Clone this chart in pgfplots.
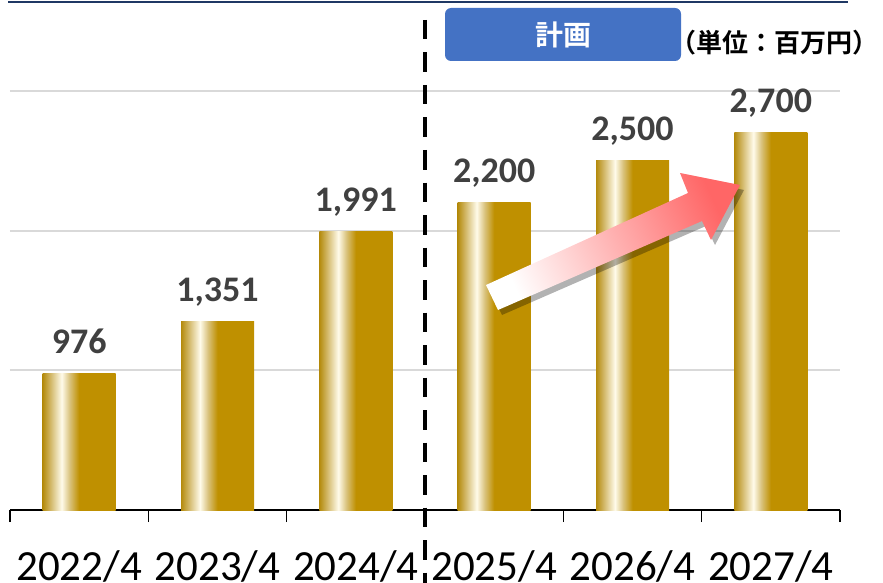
\documentclass[border=0pt]{standalone}
\usepackage{pgfplots}
\pgfplotsset{compat=1.18}
\usepackage{fontspec}
\setmainfont{Carlito}
\newfontfamily\cjk{Noto Sans CJK JP}[BoldFont={Noto Sans CJK JP Bold}]
\usetikzlibrary{shadows}
\definecolor{gold}{HTML}{BF9000}
\definecolor{golddark}{HTML}{B48A0C}
\definecolor{goldmid}{HTML}{D9C27C}
\definecolor{goldhi}{HTML}{FFFBEA}
\definecolor{textgray}{HTML}{404040}
\definecolor{gridgray}{HTML}{D9D9D9}
\definecolor{navy}{HTML}{1F3864}
\definecolor{planblue}{HTML}{4472C4}
\definecolor{arrowred}{HTML}{FF6666}
\pgfdeclarehorizontalshading{goldbar}{100bp}{color(0bp)=(golddark); color(25bp)=(golddark); color(31.5bp)=(goldmid); color(38bp)=(goldhi); color(43.5bp)=(goldmid); color(50bp)=(gold); color(100bp)=(gold)}
\begin{document}
\begin{tikzpicture}
\begin{axis}[
  scale only axis, width=830pt, height=508pt,
  at={(0pt,0pt)}, anchor=south west,
  xmin=-0.5, xmax=5.5, ymin=0, ymax=3637,
  axis lines*=left,
  y axis line style={draw=none},
  x axis line style={black, line width=1.5pt},
  ytick={1000,2000,3000}, yticklabels={},
  ytick style={draw=none},
  ymajorgrids, grid style={color=gridgray, line width=1.8pt},
  xtick={0,...,5},
  xticklabels={2022/4,2023/4,2024/4,2025/4,2026/4,2027/4},
  major x tick style={draw=none},
  minor xtick={-0.5,0.5,...,5.5},
  minor x tick style={black, line width=1.5pt},
  minor tick length=12pt,
  tick align=outside,
  xticklabel style={font=\fontsize{43}{43}\selectfont, text=black, yshift=-33pt},
  /pgf/number format/1000 sep={,},
  /pgf/number format/assume math mode=true,
  nodes near coords,
  every node near coord/.append style={font=\bfseries\fontsize{36}{36}\selectfont, text=textgray, anchor=base, yshift=20pt},
  goldbar/.style={ybar, bar width=73pt, bar shift=0pt, draw=none, shading=goldbar},
]
\addplot[goldbar] coordinates {(0,976)};
\addplot[goldbar] coordinates {(1,1351)};
\addplot[goldbar] coordinates {(2,1991)};
\addplot[goldbar] coordinates {(3,2200)};
\addplot[goldbar] coordinates {(4,2500)};
\addplot[goldbar] coordinates {(5,2700)};
\end{axis}
% top navy line
\draw[navy, line width=2pt] (-2pt,508pt) -- (838pt,508pt);
% dashed separator
\draw[black, line width=4pt, dash pattern=on 19.5pt off 13pt] (415pt,490pt) -- (415pt,-75pt);
% plan box
\fill[planblue, rounded corners=6pt] (435pt,449pt) rectangle (671pt,502pt);
\node[text=white, font=\cjk\bfseries\fontsize{28}{28}\selectfont] at (553pt,475pt) {計画};
\node[text=black, font=\cjk\bfseries\fontsize{26}{26}\selectfont, inner sep=0pt] at (764pt,467pt) {（単位：百万円）};
% arrow
\path[left color=white, right color=arrowred, shading angle=114.5,
      drop shadow={shadow xshift=4pt, shadow yshift=-5pt, opacity=0.3, fill=black}]
  (476pt,225pt) -- (678pt,317pt) -- (670pt,337pt) -- (730pt,325pt) -- (701pt,270pt) -- (692pt,289pt) -- (488pt,200pt) -- cycle;
\pgfresetboundingbox
\path[use as bounding box] (-10pt,-72pt) rectangle (873pt,510pt);
\end{tikzpicture}
\end{document}
